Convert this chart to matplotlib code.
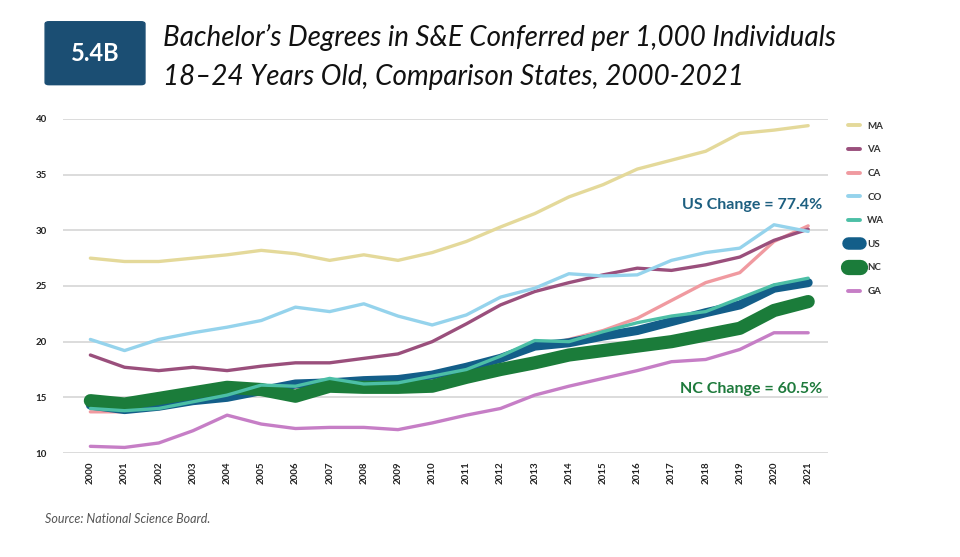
import matplotlib.pyplot as plt
from matplotlib.patches import FancyBboxPatch
from matplotlib.lines import Line2D

years = list(range(2000, 2022))

ma = [27.5, 27.2, 27.2, 27.5, 27.8, 28.2, 27.9, 27.3, 27.8, 27.3, 28.0,
      29.0, 30.3, 31.5, 33.0, 34.1, 35.5, 36.3, 37.1, 38.7, 39.0, 39.4]
va = [18.8, 17.7, 17.4, 17.7, 17.4, 17.8, 18.1, 18.1, 18.5, 18.9, 20.0,
      21.6, 23.3, 24.5, 25.3, 26.0, 26.6, 26.4, 26.9, 27.6, 29.1, 30.1]
ca = [13.7, 13.7, 14.0, 14.5, 15.0, 15.5, 15.9, 16.2, 16.2, 16.3, 16.8,
      17.4, 18.4, 19.4, 20.2, 21.0, 22.1, 23.7, 25.3, 26.2, 29.0, 30.4]
co = [20.2, 19.2, 20.2, 20.8, 21.3, 21.9, 23.1, 22.7, 23.4, 22.3, 21.5,
      22.4, 24.0, 24.8, 26.1, 25.9, 26.0, 27.3, 28.0, 28.4, 30.5, 29.9]
wa = [14.0, 13.8, 14.0, 14.6, 15.2, 16.1, 16.0, 16.7, 16.2, 16.3, 16.9,
      17.5, 18.7, 20.1, 20.0, 20.9, 21.7, 22.3, 22.7, 23.9, 25.1, 25.7]
us = [14.3, 13.9, 14.2, 14.7, 15.0, 15.6, 16.2, 16.3, 16.5, 16.6, 17.0,
      17.7, 18.5, 19.6, 19.9, 20.5, 21.0, 21.8, 22.6, 23.3, 24.8, 25.3]
nc = [14.7, 14.4, 14.9, 15.4, 15.9, 15.7, 15.1, 16.0, 15.9, 15.9, 16.0,
      16.8, 17.5, 18.1, 18.8, 19.2, 19.6, 20.0, 20.6, 21.2, 22.8, 23.6]
ga = [10.6, 10.5, 10.9, 12.0, 13.4, 12.6, 12.2, 12.3, 12.3, 12.1, 12.7,
      13.4, 14.0, 15.2, 16.0, 16.7, 17.4, 18.2, 18.4, 19.3, 20.8, 20.8]

legend_names = ['MA', 'VA', 'CA', 'CO', 'WA', 'US', 'NC', 'GA']
colors = {'MA': '#e4d99a', 'VA': '#9a4f7c', 'CA': '#f09aa0', 'CO': '#95d3ec',
          'WA': '#4cbfa6', 'US': '#135e89', 'NC': '#1b7c3a', 'GA': '#c67ec6'}
widths = {'MA': 2.4, 'VA': 2.4, 'CA': 2.4, 'CO': 2.4, 'WA': 2.4,
          'US': 6.5, 'NC': 9.5, 'GA': 2.4}
series = {'MA': ma, 'VA': va, 'CA': ca, 'CO': co, 'WA': wa,
          'US': us, 'NC': nc, 'GA': ga}
draw_order = ['MA', 'CA', 'US', 'NC', 'WA', 'VA', 'CO', 'GA']

plt.rcParams['font.family'] = ['Lato', 'DejaVu Sans']

fig = plt.figure(figsize=(9.6, 5.57), dpi=100)
ax = fig.add_axes([0.066, 0.1867, 0.7965, 0.5997])

for name in draw_order:
    ax.plot(years, series[name], color=colors[name], lw=widths[name],
            solid_capstyle='round', solid_joinstyle='round')

ax.set_xlim(1999.21, 2021.58)
ax.set_ylim(10, 40)
ax.set_yticks([10, 15, 20, 25, 30, 35, 40])
ax.set_xticks(years)
ax.set_xticklabels([str(y) for y in years], rotation=90, fontsize=7,
                   fontweight='bold', color='#222222')
ax.tick_params(axis='y', labelsize=7, colors='#222222', length=0)
ax.tick_params(axis='x', length=0, pad=6)
for lab in ax.get_yticklabels():
    lab.set_fontweight('bold')
    lab.set_horizontalalignment('left')
ax.yaxis.set_tick_params(pad=20)
ax.grid(axis='y', color='#d9d9d9', lw=1.3)
ax.set_axisbelow(True)
for s in ax.spines.values():
    s.set_visible(False)

# annotations
ax.text(2021.4, 32.3, 'US Change = 77.4%', ha='right', va='center',
        fontsize=11.5, fontweight='bold', color='#1d5f80')
ax.text(2021.4, 15.75, 'NC Change = 60.5%', ha='right', va='center',
        fontsize=11.5, fontweight='bold', color='#1e7a3c')

# legend
lw_leg = {'US': 9, 'NC': 11}
handles = [Line2D([], [], color=colors[n], lw=lw_leg.get(n, 2.8),
                  solid_capstyle='round') for n in legend_names]
leg = fig.legend(handles, legend_names, loc='upper left', bbox_to_anchor=(0.874, 0.797),
                 frameon=False, handlelength=1.3, labelspacing=1.5,
                 prop={'size': 7, 'weight': 'bold'}, handletextpad=0.7)
for t in leg.get_texts():
    t.set_color('#333333')

# title block
box = FancyBboxPatch((0.047, 0.848), 0.104, 0.113, boxstyle='round,pad=0,rounding_size=0.004',
                     transform=fig.transFigure, color='#1b4e73')
fig.patches.append(box)
fig.text(0.099, 0.904, '5.4B', ha='center', va='center', color='white',
         fontsize=17, fontweight='bold')
fig.text(0.17, 0.932, 'Bachelor\u2019s Degrees in S&E Conferred per 1,000 Individuals',
         ha='left', va='center', fontsize=20, style='italic', color='#111111')
fig.text(0.17, 0.862, '18\u201324 Years Old, Comparison States, 2000-2021',
         ha='left', va='center', fontsize=20, style='italic', color='#111111')

fig.text(0.047, 0.068, 'Source: National Science Board.', ha='left', va='center',
         fontsize=9, style='italic', color='#555555')

fig.savefig('out.png', dpi=100)
